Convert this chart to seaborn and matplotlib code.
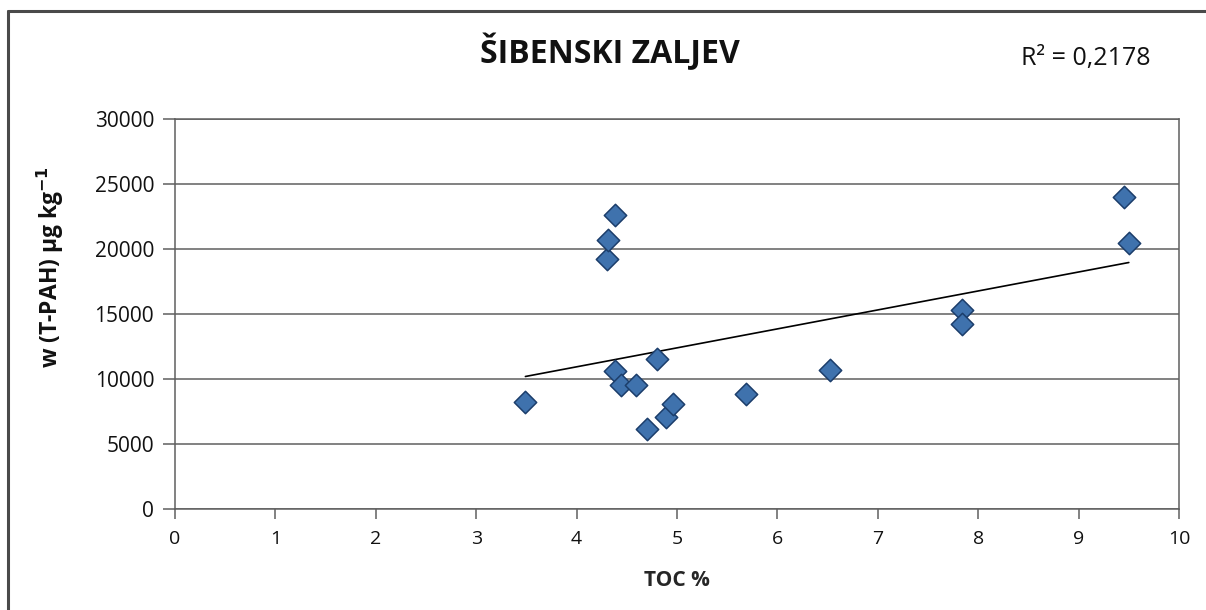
import matplotlib
matplotlib.use("Agg")
import matplotlib.pyplot as plt
from matplotlib.lines import Line2D
import numpy as np
import pandas as pd
import seaborn as sns

# Total organic carbon (%) and total PAH content (µg/kg) per sediment sample
toc = [3.49, 4.30, 4.31, 4.38, 4.38, 4.44, 4.59, 4.80, 4.70, 4.89, 4.96,
       5.69, 6.52, 7.84, 7.84, 9.45, 9.50]
tpah = [8200, 19250, 20700, 22600, 10640, 9540, 9540, 11540, 6120, 7090, 8050,
        8860, 10690, 15340, 14230, 24000, 20500]

title = "ŠIBENSKI ZALJEV"
r2_label = "R² = 0,2178"
x_ticks = list(range(0, 11))
y_ticks = list(range(0, 30001, 5000))

df = pd.DataFrame({"TOC": toc, "TPAH": tpah})

sns.set_theme(style="white")
plt.rcParams["font.family"] = ["Open Sans", "DejaVu Sans"]

fig = plt.figure(figsize=(12.06, 6.10), dpi=100)
ax = fig.add_axes([175 / 1206, 1 - 509 / 610, (1179 - 175) / 1206, (509 - 119) / 610])

axis_col = "#5f5f5f"

# Horizontal gridlines
for yv in y_ticks:
    ax.axhline(yv, color=axis_col, lw=1.1, zorder=1)

# Linear trend line
sns.regplot(data=df, x="TOC", y="TPAH", ax=ax, ci=None, scatter=False,
            truncate=True, line_kws=dict(color="black", lw=1.2, zorder=2))

# Sample points
sns.scatterplot(data=df, x="TOC", y="TPAH", ax=ax, marker="D", s=130,
                color="#3f72ad", edgecolor="#1c3e6b", linewidth=1.1, zorder=3)

ax.set_xlim(0, 10)
ax.set_ylim(0, 30000)
ax.set_xticks(x_ticks)
ax.set_yticks(y_ticks)
ax.set_xticklabels([str(v) for v in x_ticks], fontsize=14)
ax.set_yticklabels([str(v) for v in y_ticks], fontsize=15)
ax.tick_params(axis="x", which="major", direction="out", length=7,
               width=1.1, color=axis_col, bottom=True, pad=8,
               labelcolor="#111111")
ax.tick_params(axis="y", which="major", direction="out", length=9,
               width=1.1, color=axis_col, left=True, pad=6,
               labelcolor="#111111")

for side in ["left", "right", "top", "bottom"]:
    ax.spines[side].set_visible(True)
    ax.spines[side].set_color(axis_col)
    ax.spines[side].set_linewidth(1.1)

ax.set_xlabel("TOC %", fontsize=15, fontweight="bold", labelpad=16)
ax.set_ylabel("")
fig.text(50 / 1206, 1 - 267 / 610, "w (T-PAH) µg kg$^{\\mathbf{-1}}$", rotation=90,
         ha="center", va="center", fontsize=16.5, fontweight="bold", color="#111111")

fig.text(610 / 1206, 1 - 52 / 610, title, ha="center", va="center", fontsize=23,
         fontweight="bold", color="#111111")
fig.text(1086 / 1206, 1 - 58 / 610, r2_label, ha="center", va="center", fontsize=18,
         color="#111111")

# Outer chart frame (top and left edges)
fig.add_artist(Line2D([8 / 1206, 8 / 1206], [0, 1 - 11 / 610], transform=fig.transFigure,
                      color="#4a4a4a", lw=2.2))
fig.add_artist(Line2D([8 / 1206, 1], [1 - 11 / 610, 1 - 11 / 610], transform=fig.transFigure,
                      color="#4a4a4a", lw=2.2))

fig.savefig("out.png", dpi=100, facecolor="white")
